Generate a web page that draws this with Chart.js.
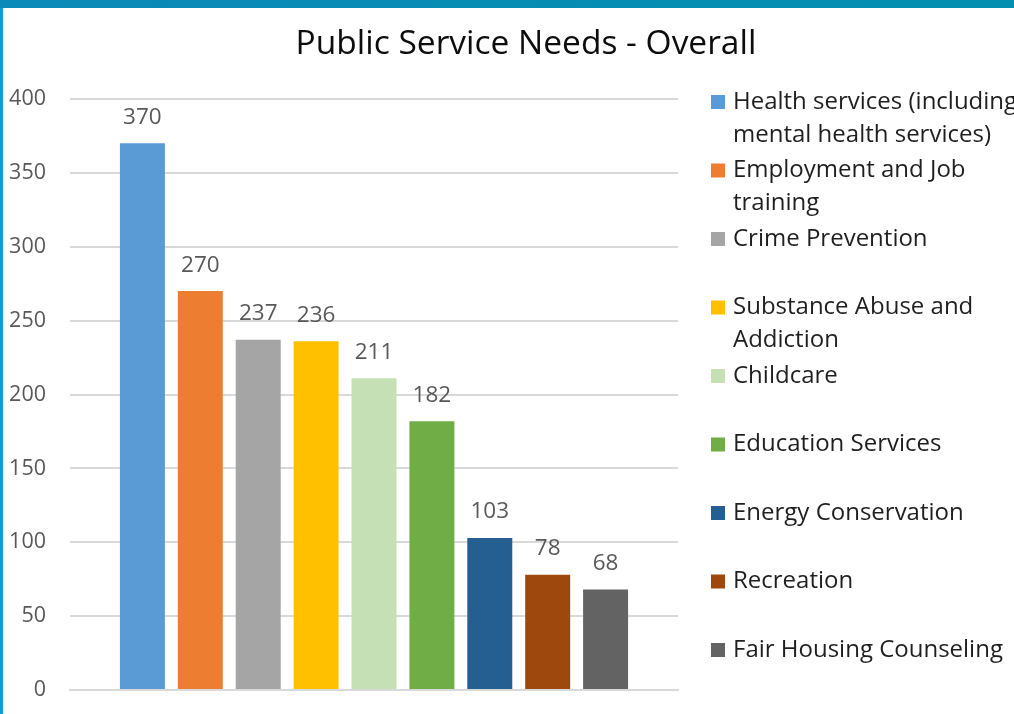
<!DOCTYPE html>
<html>
<head>
<meta charset="utf-8">
<script src="https://cdn.jsdelivr.net/npm/chart.js@4.4.1/dist/chart.umd.min.js"></script>
<style>
  html, body { margin: 0; padding: 0; width: 1014px; height: 714px; overflow: hidden; background: #0a9fd1; }
  #topbar { position: absolute; left: 0; top: 0; width: 1014px; height: 8px; background: linear-gradient(90deg, #0a8ab8, #048fb0); }
  #panel { position: absolute; left: 3px; top: 8px; width: 1011px; height: 706px; background: #ffffff; overflow: hidden; }
  #chart { position: absolute; left: 0; top: 0; display: block; }
</style>
</head>
<body>
<div id="topbar"></div>
<div id="panel"><canvas id="chart" width="1046" height="719"></canvas></div>
<script>
// Survey responses: count of respondents naming each public service need
const chartTitle = 'Public Service Needs - Overall';
const services = [
  'Health services (including mental health services)',
  'Employment and Job training',
  'Crime Prevention',
  'Substance Abuse and Addiction',
  'Childcare',
  'Education Services',
  'Energy Conservation',
  'Recreation',
  'Fair Housing Counseling'
];
const legendLines = [
  ['Health services (including', 'mental health services)'],
  ['Employment and Job', 'training'],
  ['Crime Prevention'],
  ['Substance Abuse and', 'Addiction'],
  ['Childcare'],
  ['Education Services'],
  ['Energy Conservation'],
  ['Recreation'],
  ['Fair Housing Counseling']
];
const responses = [370, 270, 237, 236, 211, 182, 103, 78, 68];
const colors = ['#5B9BD5', '#ED7D31', '#A5A5A5', '#FFC000', '#C5E0B4', '#70AD47', '#255E91', '#9E480E', '#636363'];
const yTicks = [0, 50, 100, 150, 200, 250, 300, 350, 400];

const FONT = '"Open Sans", Lato, sans-serif';

// Title centred over the whole panel
const panelTitle = {
  id: 'panelTitle',
  afterDraw(chart) {
    const ctx = chart.ctx;
    ctx.save();
    ctx.font = '33.5px ' + FONT;
    ctx.fillStyle = '#0d0d0d';
    ctx.textAlign = 'center';
    ctx.textBaseline = 'middle';
    ctx.fillText(chartTitle, 523, 36);
    ctx.restore();
  }
};

// Value labels above each bar
const valueLabels = {
  id: 'valueLabels',
  afterDatasetsDraw(chart) {
    const ctx = chart.ctx;
    ctx.save();
    ctx.font = '22.5px ' + FONT;
    ctx.fillStyle = '#595959';
    ctx.textAlign = 'center';
    ctx.textBaseline = 'middle';
    chart.data.datasets.forEach((ds, i) => {
      const bar = chart.getDatasetMeta(i).data[0];
      ctx.fillText(String(ds.data[0]), bar.x, bar.y - 26);
    });
    ctx.restore();
  }
};

// Vertical legend with wrapped entries, to the right of the plot
const sideLegend = {
  id: 'sideLegend',
  afterDraw(chart) {
    const ctx = chart.ctx;
    const x0 = chart.chartArea.right + 33;
    const y0 = chart.chartArea.top + 3;
    const step = 68.5, lineH = 33, box = 14;
    ctx.save();
    ctx.font = '24px ' + FONT;
    ctx.textBaseline = 'middle';
    ctx.textAlign = 'left';
    chart.data.datasets.forEach((ds, i) => {
      const y = y0 + i * step;
      ctx.fillStyle = ds.backgroundColor;
      ctx.fillRect(x0, y - box / 2, box, box);
      ctx.fillStyle = '#1f1f1f';
      legendLines[i].forEach((line, k) => {
        ctx.fillText(line, x0 + 22, y + k * lineH);
      });
    });
    ctx.restore();
  }
};

new Chart(document.getElementById('chart'), {
  type: 'bar',
  data: {
    labels: [''],
    datasets: services.map((name, i) => ({
      label: name,
      data: [responses[i]],
      backgroundColor: colors[i],
      borderWidth: 0
    }))
  },
  options: {
    responsive: false,
    animation: false,
    devicePixelRatio: 1,
    categoryPercentage: 0.857,
    barPercentage: 0.777,
    layout: { padding: { left: 0, right: 371, top: 91, bottom: 25 } },
    plugins: {
      legend: { display: false },
      tooltip: { enabled: false },
      title: { display: false }
    },
    scales: {
      x: {
        afterFit(scale) { scale.height = 0; },
        grid: { display: false },
        border: { display: true, color: '#d9d9d9', width: 2 },
        ticks: { display: false }
      },
      y: {
        min: 0,
        max: 400,
        afterBuildTicks(scale) { scale.ticks = yTicks.map(v => ({ value: v })); },
        afterFit(scale) { scale.width = 67; },
        grid: { color: '#d9d9d9', lineWidth: 2, drawTicks: false },
        border: { display: false },
        ticks: {
          padding: 24,
          color: '#595959',
          font: { family: FONT, size: 21.5 }
        }
      }
    }
  },
  plugins: [valueLabels, sideLegend, panelTitle]
});
</script>
</body>
</html>
